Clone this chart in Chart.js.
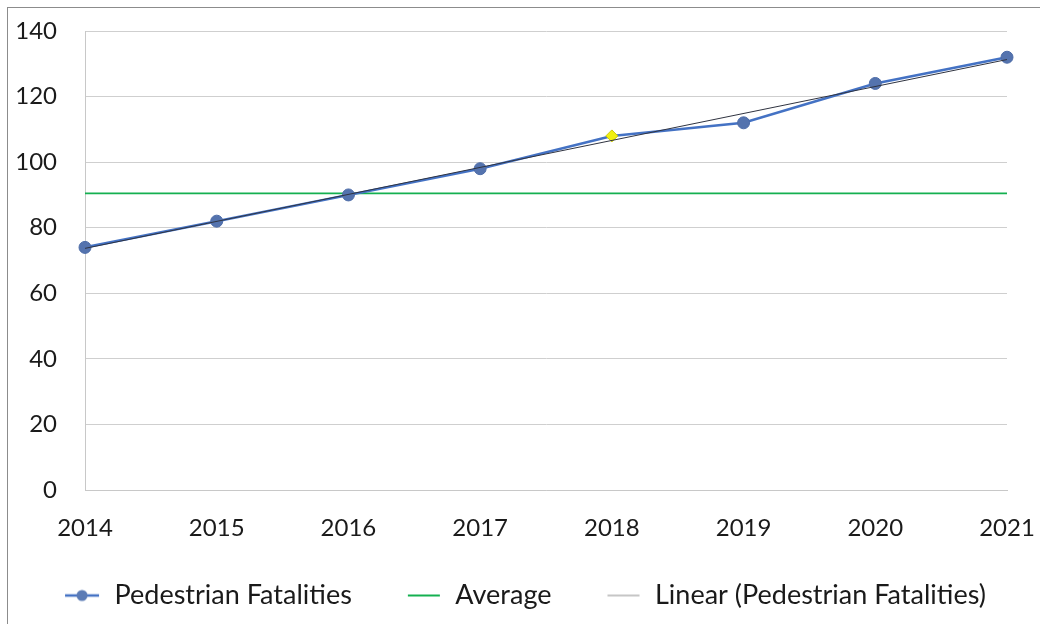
<!DOCTYPE html>
<html>
<head>
<meta charset="utf-8">
<script src="https://cdn.jsdelivr.net/npm/chart.js@4.4.1/dist/chart.umd.min.js"></script>
<style>
  html, body { margin: 0; padding: 0; background: #fff; }
  #wrap { position: relative; width: 1040px; height: 624px; overflow: hidden; }
  #frame { position: absolute; left: 7px; top: 7px; width: 1100px; height: 700px; border: 1px solid #8c8c8c; box-sizing: border-box; }
  canvas { position: absolute; left: 0; top: 0; }
</style>
</head>
<body>
<div id="wrap">
  <div id="frame"></div>
  <canvas id="c" width="1040" height="624"></canvas>
</div>
<script>
const years = ['2014', '2015', '2016', '2017', '2018', '2019', '2020', '2021'];
const fatalities = [74, 82, 90, 98, 108, 112, 124, 132];
const averageValue = [90.5, 90.5];
const trendEnds = [73.7, 131.3];
const yTicks = [0, 20, 40, 60, 80, 100, 120, 140];

const seriesNames = ['Pedestrian Fatalities', 'Average', 'Linear (Pedestrian Fatalities)'];

const ICON_W = 80;
function legendIcon(kind) {
  const cv = document.createElement('canvas');
  cv.width = ICON_W; cv.height = 14;
  const g = cv.getContext('2d');
  const x0 = ICON_W - 36, x1 = ICON_W - 2;
  if (kind === 0) {
    g.strokeStyle = '#4472c4'; g.lineWidth = 2.5;
    g.beginPath(); g.moveTo(x0, 7); g.lineTo(x1, 7); g.stroke();
    g.fillStyle = '#5b7bb5';
    g.beginPath(); g.arc((x0 + x1) / 2, 7, 5.5, 0, Math.PI * 2); g.fill();
  } else if (kind === 1) {
    g.strokeStyle = '#14b050'; g.lineWidth = 2;
    g.beginPath(); g.moveTo(x0 + 2, 7); g.lineTo(x1, 7); g.stroke();
  } else {
    g.strokeStyle = '#a0a0a0'; g.lineWidth = 1.2;
    g.beginPath(); g.moveTo(x0 + 2, 7); g.lineTo(x1, 7); g.stroke();
  }
  return cv;
}
const icons = [legendIcon(0), legendIcon(1), legendIcon(2)];

new Chart(document.getElementById('c'), {
  type: 'line',
  data: {
    labels: years,
    datasets: [
      {
        label: seriesNames[0],
        data: fatalities,
        borderColor: '#4472c4',
        borderWidth: 2.6,
        pointRadius: 6,
        pointHoverRadius: 6,
        pointBorderWidth: 1,
        pointBackgroundColor: (ctx) => ctx.dataIndex === 4 ? '#f0ef10' : '#5473ae',
        pointBorderColor: (ctx) => ctx.dataIndex === 4 ? '#c9c90a' : '#4d6ca8',
        pointStyle: (ctx) => ctx.dataIndex === 4 ? 'rectRot' : 'circle',
        tension: 0,
        order: 2
      },
      {
        label: seriesNames[1],
        data: [{ x: years[0], y: averageValue[0] }, { x: years[years.length - 1], y: averageValue[1] }],
        borderColor: '#14b050',
        borderWidth: 1.8,
        pointRadius: 0,
        order: 3
      },
      {
        label: seriesNames[2],
        data: [{ x: years[0], y: trendEnds[0] }, { x: years[years.length - 1], y: trendEnds[1] }],
        borderColor: '#2f3340',
        borderWidth: 1,
        pointRadius: 0,
        order: 1
      }
    ]
  },
  options: {
    responsive: false,
    animation: false,
    layout: { padding: { top: 31, right: 33, left: 0, bottom: 5 } },
    plugins: {
      tooltip: { enabled: false },
      legend: {
        position: 'bottom',
        labels: {
          usePointStyle: true,
          pointStyleWidth: ICON_W,
          boxHeight: 14,
          padding: 10,
          color: '#1a1a1a',
          font: { family: 'Lato', size: 27 },
          generateLabels: (chart) => chart.data.datasets.map((ds, i) => ({
            text: ds.label,
            pointStyle: icons[i],
            fillStyle: 'transparent',
            strokeStyle: 'transparent',
            lineWidth: 0,
            fontColor: '#1a1a1a',
            datasetIndex: i,
            hidden: false
          }))
        }
      }
    },
    scales: {
      x: {
        type: 'category',
        offset: false,
        grid: { display: false, drawTicks: false },
        border: { display: true, color: '#c8c8c8', width: 1 },
        ticks: {
          color: '#1a1a1a',
          padding: 24,
          maxRotation: 0,
          autoSkip: false,
          font: { family: 'Lato', size: 24 }
        },
        afterFit: (s) => { s.height = 82; s.paddingLeft = 0; s.paddingRight = 0; }
      },
      y: {
        min: 0,
        max: 140,
        afterBuildTicks: (s) => { s.ticks = yTicks.map(v => ({ value: v })); },
        grid: { color: '#cfcfcf', lineWidth: 1, drawTicks: false },
        border: { display: true, color: '#c8c8c8', width: 1 },
        ticks: {
          color: '#1a1a1a',
          padding: 28,
          font: { family: 'Lato', size: 24 }
        },
        afterFit: (s) => { s.width = 85; s.paddingTop = 0; s.paddingBottom = 0; }
      }
    }
  }
});
</script>
</body>
</html>
